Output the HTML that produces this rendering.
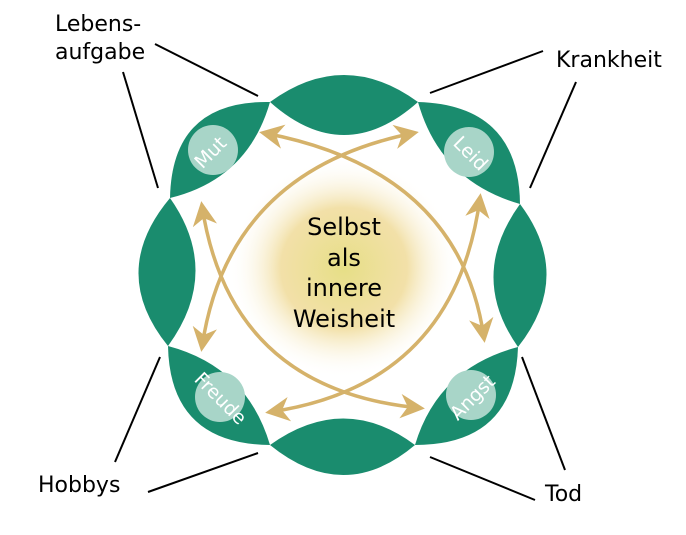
<!DOCTYPE html>
<html><head><style>body{margin:0;background:#fff}</style></head><body>
<svg width="686" height="530" viewBox="0 0 686 530" xmlns="http://www.w3.org/2000/svg" font-family="'DejaVu Sans', sans-serif">
<defs>
<radialGradient id="g" cx="0.5" cy="0.5" r="0.5">
<stop offset="0" stop-color="#e6df86"/>
<stop offset="0.55" stop-color="#efd993" stop-opacity="0.8"/>
<stop offset="1" stop-color="#fff" stop-opacity="0"/>
</radialGradient>
<marker id="a" viewBox="0 0 10 10" refX="8" refY="5" markerWidth="7" markerHeight="7" orient="auto-start-reverse"><path d="M0,0 L10,5 L0,10 L3,5 z" fill="#d5b26a"/></marker>
</defs>
<ellipse cx="344" cy="268" rx="115" ry="110" fill="url(#g)"/>
<g fill="#1a8c6e">
<path d="M270,102 Q344,48 418,102 Q344,168 270,102Z"/>
<path d="M270,445 Q344,392 415,445 Q344,505 270,445Z"/>
<path d="M170,198 Q108,272 168,346 Q222,272 170,198Z"/>
<path d="M520,204 Q574,276 518,347 Q468,276 520,204Z"/>
<path d="M270,102 Q172,100 170,198 Q248,179 270,102Z"/>
<path d="M418,102 Q519,105 520,204 Q440,181 418,102Z"/>
<path d="M168,346 Q170,444 270,445 Q247,367 168,346Z"/>
<path d="M518,347 Q515,445 415,445 Q438,368 518,347Z"/>
</g>
<g fill="none" stroke="#d5b26a" stroke-width="3.5" marker-start="url(#a)" marker-end="url(#a)">
<path d="M264,133 Q460,170 484,338"/>
<path d="M414,133 Q228,170 202,347"/>
<path d="M202,206 Q230,390 420,408"/>
<path d="M480,198 Q455,385 270,412"/>
</g>
<g fill="#a8d5c8">
<circle cx="213" cy="150" r="25"/><circle cx="469" cy="152" r="25"/>
<circle cx="220" cy="397" r="25"/><circle cx="471" cy="395" r="25"/>
</g>
<g fill="#fff" font-size="19" text-anchor="middle">
<text transform="translate(215,157) rotate(-45)">Mut</text>
<text transform="translate(466,158) rotate(45)">Leid</text>
<text transform="translate(216,403) rotate(45)">Freude</text>
<text transform="translate(477,402) rotate(-45)">Angst</text>
</g>
<g stroke="#000" stroke-width="2">
<line x1="155" y1="44" x2="258" y2="96"/><line x1="123" y1="72" x2="158" y2="188"/>
<line x1="430" y1="93" x2="543" y2="51"/><line x1="576" y1="82" x2="530" y2="188"/>
<line x1="160" y1="357" x2="115" y2="462"/><line x1="148" y1="492" x2="258" y2="453"/>
<line x1="430" y1="457" x2="535" y2="500"/><line x1="522" y1="357" x2="565" y2="470"/>
</g>
<g font-size="22" fill="#000">
<text x="55" y="31">Lebens-</text><text x="55" y="59">aufgabe</text>
<text x="556" y="67">Krankheit</text>
<text x="38" y="492">Hobbys</text>
<text x="545" y="501">Tod</text>
</g>
<g font-size="24" fill="#000" text-anchor="middle">
<text x="344" y="235">Selbst</text><text x="344" y="266">als</text>
<text x="344" y="296">innere</text><text x="344" y="327">Weisheit</text>
</g>
</svg>
</body></html>
